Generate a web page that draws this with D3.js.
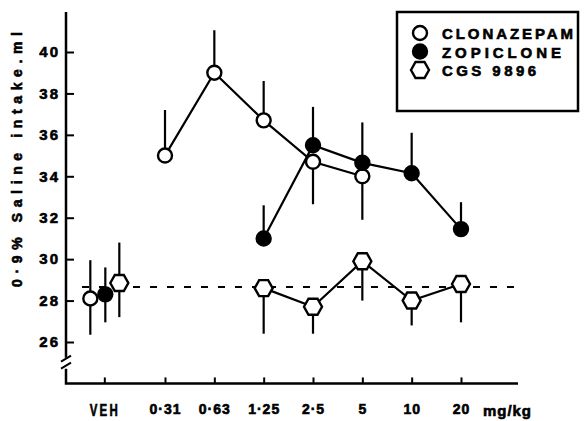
<!DOCTYPE html>
<html><head><meta charset="utf-8">
<script src="https://cdn.jsdelivr.net/npm/d3@7"></script>
<style>
html,body{margin:0;padding:0;background:#fff;}
svg{display:block;}
text{font-family:"Liberation Sans",Arial,sans-serif;font-weight:bold;fill:#000;}
</style></head>
<body><svg id="c" width="584" height="421"></svg>
<script>
// ---- data ----
const categories = ["VEH","0·31","0·63","1·25","2·5","5","10","20"];
const yTicks = [26,28,30,32,34,36,38,40];
const clonazepam     = [28.1, 35.0, 39.0, 36.7, 34.7, 34.0, null, null];
const clonazepamHigh = [29.95, 37.2, 41.05, 38.6, null, null, null, null];
const clonazepamLow  = [26.35, null, null, null, 32.65, 31.9, null, null];
const zopiclone      = [28.3, null, null, 31.0, 35.5, 34.65, 34.15, 31.45];
const zopicloneHigh  = [29.6, null, null, 32.6, 37.35, 36.6, 36.1, 32.75];
const zopicloneLow   = [26.95, null, null, null, null, null, null, null];
const cgs9896        = [28.85, null, null, 28.6, 27.7, 29.9, 28.0, 28.8];
const cgs9896High    = [30.8, null, null, null, null, null, null, null];
const cgs9896Low     = [27.2, null, null, 26.4, 26.4, 28.0, 26.8, 26.95];
const vehicleBaseline = 28.65;
const legendLabels = ["CLONAZEPAM","ZOPICLONE","CGS 9896"];

// ---- layout ----
const svg = d3.select("#c");
const axisX = 66;
const y = d3.scaleLinear().domain([26,40]).range([342,52]);
const doseScale = d3.scalePoint().domain(categories.slice(1)).range([165,461]);
const vehPos = doseScale(categories[1]) - 1.23*doseScale.step();
const x = d3.scaleOrdinal().domain(categories)
  .range([vehPos, ...categories.slice(1).map(c=>doseScale(c))]);
const axisY = y(24);
const heavy = sel => sel.attr("stroke","#000").attr("stroke-width",0.6).attr("paint-order","stroke");

// y axis
const gy = svg.append("g").attr("transform",`translate(${axisX},0)`)
  .call(d3.axisLeft(y).tickValues(yTicks).tickSizeInner(-8).tickSizeOuter(0).tickPadding(8));
gy.select(".domain").remove();
gy.selectAll(".tick line").attr("stroke","#000").attr("stroke-width",2);
gy.selectAll(".tick text").attr("font-size",15).attr("font-family","Liberation Sans, Arial")
  .attr("font-weight","bold").attr("letter-spacing",2).attr("dx",2).call(heavy);

// axis line with break
const brk = y(25);
svg.append("path").attr("d",`M${axisX},12V${brk-5}M${axisX},${brk+6}V${axisY}H518`)
  .attr("fill","none").attr("stroke","#000").attr("stroke-width",2.5);
svg.append("path").attr("d",`M${axisX-5},${brk-1}L${axisX+5},${brk-7}M${axisX-5},${brk+6}L${axisX+5},${brk}`)
  .attr("fill","none").attr("stroke","#000").attr("stroke-width",2);

// x axis
const gx = svg.append("g").attr("transform",`translate(0,${axisY})`)
  .call(d3.axisBottom(x).tickSizeInner(-6).tickSizeOuter(0).tickPadding(21));
gx.select(".domain").remove();
gx.selectAll(".tick line").attr("stroke","#000").attr("stroke-width",2);
gx.selectAll(".tick text").attr("font-size",14).attr("font-family","Liberation Sans, Arial")
  .attr("font-weight","bold").attr("letter-spacing",1).call(heavy);
gx.selectAll(".tick text").filter(d=>d==="VEH").attr("font-size",16).attr("letter-spacing",3)
  .attr("textLength",30).attr("lengthAdjust","spacingAndGlyphs");
svg.append("text").attr("x",508).attr("y",axisY+33).attr("text-anchor","middle")
  .attr("font-size",15).attr("letter-spacing",2).attr("textLength",50).attr("lengthAdjust","spacing")
  .text("mg/kg").call(heavy);

// y label
svg.append("text").attr("transform",`translate(22,158) rotate(-90)`).attr("text-anchor","middle")
  .attr("font-size",14).attr("letter-spacing",3).attr("textLength",258).attr("lengthAdjust","spacing")
  .text("0·9% Saline intake.ml").call(heavy);

// baseline
svg.append("line").attr("x1",82).attr("x2",520).attr("y1",y(vehicleBaseline)).attr("y2",y(vehicleBaseline))
  .attr("stroke","#000").attr("stroke-width",2).attr("stroke-dasharray","7,10");

const series = [
  {name:"clonazepam", v:clonazepam, hi:clonazepamHigh, lo:clonazepamLow, off:-14, shape:"open"},
  {name:"zopiclone", v:zopiclone, hi:zopicloneHigh, lo:zopicloneLow, off:1, shape:"filled"},
  {name:"cgs", v:cgs9896, hi:cgs9896High, lo:cgs9896Low, off:15, shape:"hex"}
];
const px = (s,i) => x(categories[i]) + (i===0 ? s.off : 0);

const line = d3.line().defined(d=>d.v!=null).x(d=>d.x).y(d=>y(d.v));
series.forEach(s=>{
  const pts = s.v.map((v,i)=>({v, x:px(s,i), i})).filter(d=>d.i>0);
  svg.append("path").datum(pts).attr("d",line).attr("fill","none").attr("stroke","#000").attr("stroke-width",2.2);
});
series.forEach(s=>{
  s.v.forEach((v,i)=>{
    if(v==null) return;
    const top = s.hi[i]!=null ? s.hi[i] : v;
    const bot = s.lo[i]!=null ? s.lo[i] : v;
    if(top===bot) return;
    svg.append("line").attr("x1",px(s,i)).attr("x2",px(s,i)).attr("y1",y(top)).attr("y2",y(bot))
      .attr("stroke","#000").attr("stroke-width",2.2);
  });
});
function hexPath(cx,cy,r,h){
  return `M${cx-r},${cy}L${cx-r/2},${cy-h}L${cx+r/2},${cy-h}L${cx+r},${cy}L${cx+r/2},${cy+h}L${cx-r/2},${cy+h}Z`;
}
function marker(g,shape,cx,cy){
  if(shape==="hex") g.append("path").attr("d",hexPath(cx,cy,9,8)).attr("fill","#fff").attr("stroke","#000").attr("stroke-width",2.4);
  else g.append("circle").attr("cx",cx).attr("cy",cy).attr("r",7)
    .attr("fill",shape==="filled"?"#000":"#fff").attr("stroke","#000").attr("stroke-width",2.4);
}
series.forEach(s=>{
  s.v.forEach((v,i)=>{ if(v!=null) marker(svg,s.shape,px(s,i),y(v)); });
});

// legend
svg.append("rect").attr("x",397).attr("y",12).attr("width",181).attr("height",99)
  .attr("fill","#fff").attr("stroke","#000").attr("stroke-width",2.5);
series.forEach((s,k)=>{
  const cy = 33 + k*18.5;
  marker(svg,s.shape,420,cy);
  svg.append("text").attr("x",442).attr("y",cy+6).attr("font-size",15)
    .attr("textLength",[131,119,94][k]).attr("lengthAdjust","spacing").text(legendLabels[k]).call(heavy);
});
</script></body></html>
